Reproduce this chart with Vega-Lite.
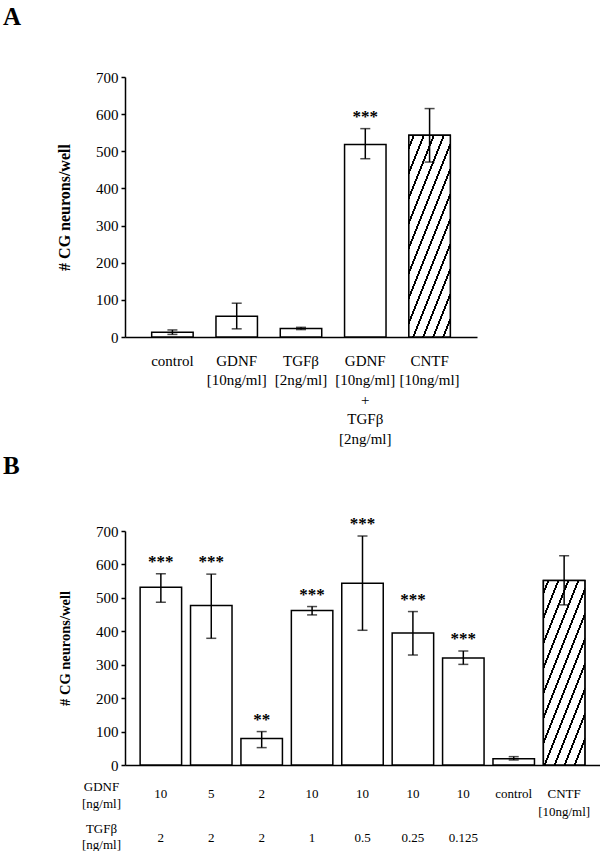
{
  "$schema": "https://vega.github.io/schema/vega-lite/v6.json",
  "padding": {"left": 3, "top": 5, "right": 0, "bottom": 0},
  "background": "white",
  "config": {
    "view": {"stroke": null},
    "font": "Liberation Serif",
    "axis": {"domainColor": "black", "domainWidth": 1.5, "tickColor": "black", "tickWidth": 1.5, "labelColor": "black", "titleColor": "black", "grid": false},
    "axisY": {"values": [0, 100, 200, 300, 400, 500, 600, 700], "tickSize": 4, "labelFontSize": 15, "labelPadding": 3, "titleFontWeight": "bold", "titlePadding": 23, "labelOverlap": false},
    "title": {"color": "black"}
  },
  "datasets": {
    "a": [
      {"cond": "control", "mean": 13, "lo": 7, "hi": 19, "star": ""},
      {"cond": "GDNF [10ng/ml]", "mean": 56, "lo": 22, "hi": 91, "star": ""},
      {"cond": "TGFβ [2ng/ml]", "mean": 23, "lo": 20, "hi": 26, "star": ""},
      {"cond": "GDNF [10ng/ml] + TGFβ [2ng/ml]", "mean": 518, "lo": 480, "hi": 561, "star": "***"},
      {"cond": "CNTF [10ng/ml]", "mean": 543, "lo": 471, "hi": 615, "star": ""}
    ],
    "b": [
      {"cond": "10|2", "mean": 532, "lo": 487, "hi": 572, "star": "***"},
      {"cond": "5|2", "mean": 477, "lo": 379, "hi": 571, "star": "***"},
      {"cond": "2|2", "mean": 79, "lo": 52, "hi": 100, "star": "**"},
      {"cond": "10|1", "mean": 462, "lo": 449, "hi": 474, "star": "***"},
      {"cond": "10|0.5", "mean": 544, "lo": 403, "hi": 685, "star": "***"},
      {"cond": "10|0.25", "mean": 395, "lo": 329, "hi": 459, "star": "***"},
      {"cond": "10|0.125", "mean": 320, "lo": 301, "hi": 341, "star": "***"},
      {"cond": "control|", "mean": 19, "lo": 15, "hi": 25, "star": ""},
      {"cond": "CNTF [10ng/ml]|", "mean": 552, "lo": 479, "hi": 626, "star": ""}
    ]
  },
  "spacing": 8,
  "vconcat": [
    {
      "title": {"text": "A", "anchor": "start", "frame": "group", "dx": -122, "offset": 20, "baseline": "alphabetic", "fontSize": 25, "fontWeight": "bold"},
      "width": 352,
      "height": 260,
      "data": {"name": "a"},
      "layer": [
        {
          "mark": {"type": "bar", "fill": "white", "stroke": "black", "strokeWidth": 1.5},
          "encoding": {
            "x": {"field": "cond", "type": "nominal", "sort": null, "scale": {"paddingInner": 0.355, "paddingOuter": 0.415},
              "axis": {"title": null, "ticks": false, "labelAngle": 0, "labelFontSize": 15, "labelPadding": 16, "labelLineHeight": 19.5, "labelOverlap": false, "labelLimit": 0, "labelExpr": "split(datum.value, ' ')"}},
            "y": {"field": "mean", "type": "quantitative", "scale": {"domain": [0, 700]}, "title": "# CG neurons/well", "axis": {"titleFontSize": 16}}
          }
        },
        {
          "transform": [{"filter": "datum.cond === 'CNTF [10ng/ml]'"}],
          "mark": {"type": "bar", "stroke": "black", "strokeWidth": 1.5,
            "fill": {"gradient": "linear", "x1": 0, "y1": 0, "x2": 0.6166, "y2": 1.1975, "stops": [
              {"offset": 0, "color": "white"},
              {"offset": 0.0324, "color": "white"}, {"offset": 0.0324, "color": "black"}, {"offset": 0.0495, "color": "black"}, {"offset": 0.0495, "color": "white"},
              {"offset": 0.1143, "color": "white"}, {"offset": 0.1143, "color": "black"}, {"offset": 0.1314, "color": "black"}, {"offset": 0.1314, "color": "white"},
              {"offset": 0.1962, "color": "white"}, {"offset": 0.1962, "color": "black"}, {"offset": 0.2133, "color": "black"}, {"offset": 0.2133, "color": "white"},
              {"offset": 0.2781, "color": "white"}, {"offset": 0.2781, "color": "black"}, {"offset": 0.2952, "color": "black"}, {"offset": 0.2952, "color": "white"},
              {"offset": 0.3600, "color": "white"}, {"offset": 0.3600, "color": "black"}, {"offset": 0.3771, "color": "black"}, {"offset": 0.3771, "color": "white"},
              {"offset": 0.4419, "color": "white"}, {"offset": 0.4419, "color": "black"}, {"offset": 0.4590, "color": "black"}, {"offset": 0.4590, "color": "white"},
              {"offset": 0.5238, "color": "white"}, {"offset": 0.5238, "color": "black"}, {"offset": 0.5409, "color": "black"}, {"offset": 0.5409, "color": "white"},
              {"offset": 0.6057, "color": "white"}, {"offset": 0.6057, "color": "black"}, {"offset": 0.6228, "color": "black"}, {"offset": 0.6228, "color": "white"},
              {"offset": 0.6876, "color": "white"}, {"offset": 0.6876, "color": "black"}, {"offset": 0.7047, "color": "black"}, {"offset": 0.7047, "color": "white"},
              {"offset": 0.7695, "color": "white"}, {"offset": 0.7695, "color": "black"}, {"offset": 0.7866, "color": "black"}, {"offset": 0.7866, "color": "white"},
              {"offset": 0.8514, "color": "white"}, {"offset": 0.8514, "color": "black"}, {"offset": 0.8685, "color": "black"}, {"offset": 0.8685, "color": "white"},
              {"offset": 0.9333, "color": "white"}, {"offset": 0.9333, "color": "black"}, {"offset": 0.9504, "color": "black"}, {"offset": 0.9504, "color": "white"},
              {"offset": 1, "color": "white"}
            ]}},
          "encoding": {
            "x": {"field": "cond", "type": "nominal", "sort": null,
              "axis": {"title": null, "ticks": false, "labelAngle": 0, "labelFontSize": 15, "labelPadding": 16, "labelLineHeight": 19.5, "labelOverlap": false, "labelLimit": 0, "labelExpr": "split(datum.value, ' ')"}},
            "y": {"field": "mean", "type": "quantitative", "scale": {"domain": [0, 700]}, "title": "# CG neurons/well", "axis": {"titleFontSize": 16}}
          }
        },
        {
          "mark": {"type": "errorbar", "color": "black", "ticks": true, "size": 10, "thickness": 1.5},
          "encoding": {
            "x": {"field": "cond", "type": "nominal", "sort": null,
              "axis": {"title": null, "ticks": false, "labelAngle": 0, "labelFontSize": 15, "labelPadding": 16, "labelLineHeight": 19.5, "labelOverlap": false, "labelLimit": 0, "labelExpr": "split(datum.value, ' ')"}},
            "y": {"field": "lo", "type": "quantitative", "scale": {"domain": [0, 700]}, "title": "# CG neurons/well", "axis": {"titleFontSize": 16}},
            "y2": {"field": "hi"}
          }
        },
        {
          "mark": {"type": "text", "baseline": "alphabetic", "dy": -7, "fontSize": 17, "fontWeight": "bold", "color": "black"},
          "encoding": {
            "x": {"field": "cond", "type": "nominal", "sort": null,
              "axis": {"title": null, "ticks": false, "labelAngle": 0, "labelFontSize": 15, "labelPadding": 16, "labelLineHeight": 19.5, "labelOverlap": false, "labelLimit": 0, "labelExpr": "split(datum.value, ' ')"}},
            "y": {"field": "hi", "type": "quantitative", "scale": {"domain": [0, 700]}, "title": "# CG neurons/well", "axis": {"titleFontSize": 16}},
            "text": {"field": "star"}
          }
        }
      ]
    },
    {
      "title": {"text": "B", "anchor": "start", "frame": "group", "dx": -122, "offset": 16, "baseline": "alphabetic", "fontSize": 25, "fontWeight": "bold"},
      "width": 475,
      "height": 234,
      "data": {"name": "b"},
      "resolve": {"axis": {"x": "independent"}},
      "layer": [
        {
          "mark": {"type": "bar", "fill": "white", "stroke": "black", "strokeWidth": 1.5},
          "encoding": {
            "x": {"field": "cond", "type": "nominal", "sort": null, "scale": {"paddingInner": 0.177, "paddingOuter": 0.3},
              "axis": {"orient": "bottom", "title": ["GDNF", "[ng/ml]"], "titleAngle": 0, "titleFontSize": 13, "titleFontWeight": "normal", "titleAlign": "center", "titleBaseline": "top", "titleLineHeight": 17, "titleX": -24, "titleY": 15,
                "ticks": false, "labelAngle": 0, "labelFontSize": 13, "labelPadding": 22, "labelLineHeight": 18, "labelOverlap": false, "labelLimit": 0, "labelExpr": "split(split(datum.value, '|')[0], ' ')"}},
            "y": {"field": "mean", "type": "quantitative", "scale": {"domain": [0, 700]}, "title": "# CG neurons/well", "axis": {"titleFontSize": 14.5}}
          }
        },
        {
          "transform": [{"filter": "datum.cond === 'CNTF [10ng/ml]|'"}],
          "mark": {"type": "bar", "stroke": "black", "strokeWidth": 1.5,
            "fill": {"gradient": "linear", "x1": 0, "y1": 0, "x2": 0.6675, "y2": 1.1871, "stops": [
              {"offset": 0, "color": "white"},
              {"offset": 0.0343, "color": "white"}, {"offset": 0.0343, "color": "black"}, {"offset": 0.0524, "color": "black"}, {"offset": 0.0524, "color": "white"},
              {"offset": 0.1210, "color": "white"}, {"offset": 0.1210, "color": "black"}, {"offset": 0.1392, "color": "black"}, {"offset": 0.1392, "color": "white"},
              {"offset": 0.2078, "color": "white"}, {"offset": 0.2078, "color": "black"}, {"offset": 0.2259, "color": "black"}, {"offset": 0.2259, "color": "white"},
              {"offset": 0.2945, "color": "white"}, {"offset": 0.2945, "color": "black"}, {"offset": 0.3126, "color": "black"}, {"offset": 0.3126, "color": "white"},
              {"offset": 0.3812, "color": "white"}, {"offset": 0.3812, "color": "black"}, {"offset": 0.3994, "color": "black"}, {"offset": 0.3994, "color": "white"},
              {"offset": 0.4680, "color": "white"}, {"offset": 0.4680, "color": "black"}, {"offset": 0.4861, "color": "black"}, {"offset": 0.4861, "color": "white"},
              {"offset": 0.5547, "color": "white"}, {"offset": 0.5547, "color": "black"}, {"offset": 0.5728, "color": "black"}, {"offset": 0.5728, "color": "white"},
              {"offset": 0.6414, "color": "white"}, {"offset": 0.6414, "color": "black"}, {"offset": 0.6595, "color": "black"}, {"offset": 0.6595, "color": "white"},
              {"offset": 0.7281, "color": "white"}, {"offset": 0.7281, "color": "black"}, {"offset": 0.7463, "color": "black"}, {"offset": 0.7463, "color": "white"},
              {"offset": 0.8149, "color": "white"}, {"offset": 0.8149, "color": "black"}, {"offset": 0.8330, "color": "black"}, {"offset": 0.8330, "color": "white"},
              {"offset": 0.9016, "color": "white"}, {"offset": 0.9016, "color": "black"}, {"offset": 0.9197, "color": "black"}, {"offset": 0.9197, "color": "white"},
              {"offset": 1, "color": "white"}
            ]}},
          "encoding": {
            "x": {"field": "cond", "type": "nominal", "sort": null, "axis": null},
            "y": {"field": "mean", "type": "quantitative", "scale": {"domain": [0, 700]}, "title": "# CG neurons/well", "axis": {"titleFontSize": 14.5}}
          }
        },
        {
          "mark": {"type": "errorbar", "color": "black", "ticks": true, "size": 10, "thickness": 1.5},
          "encoding": {
            "x": {"field": "cond", "type": "nominal", "sort": null,
              "axis": {"orient": "bottom", "title": ["TGFβ", "[ng/ml]"], "titleAngle": 0, "titleFontSize": 13, "titleFontWeight": "normal", "titleAlign": "center", "titleBaseline": "top", "titleLineHeight": 16, "titleX": -24, "titleY": 57,
                "domain": false, "ticks": false, "labelAngle": 0, "labelFontSize": 13, "labelPadding": 66, "labelOverlap": false, "labelLimit": 0, "labelExpr": "split(datum.value, '|')[1]"}},
            "y": {"field": "lo", "type": "quantitative", "scale": {"domain": [0, 700]}, "title": "# CG neurons/well", "axis": {"titleFontSize": 14.5}},
            "y2": {"field": "hi"}
          }
        },
        {
          "mark": {"type": "text", "baseline": "alphabetic", "dy": -7, "fontSize": 17, "fontWeight": "bold", "color": "black"},
          "encoding": {
            "x": {"field": "cond", "type": "nominal", "sort": null, "axis": null},
            "y": {"field": "hi", "type": "quantitative", "scale": {"domain": [0, 700]}, "title": "# CG neurons/well", "axis": {"titleFontSize": 14.5}},
            "text": {"field": "star"}
          }
        }
      ]
    }
  ]
}
